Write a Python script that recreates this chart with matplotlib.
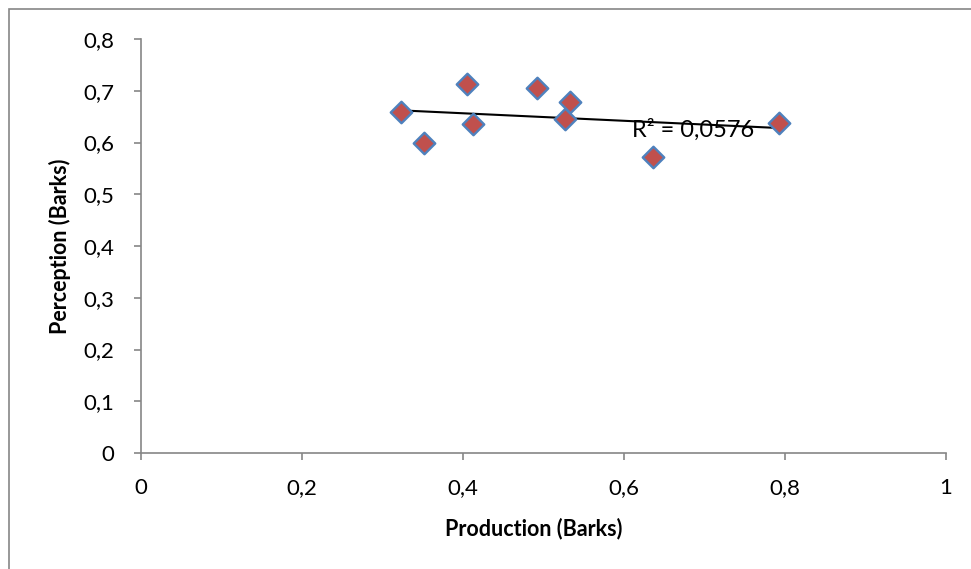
import numpy as np
import matplotlib.pyplot as plt
from matplotlib.patches import Rectangle

# valores
production = [0.323, 0.351, 0.405, 0.412, 0.492, 0.527, 0.533, 0.636, 0.793]
perception = [0.658, 0.600, 0.714, 0.635, 0.706, 0.645, 0.678, 0.572, 0.637]
r2_label = 'R² = 0,0576'
xticks = [0, 0.2, 0.4, 0.6, 0.8, 1]
yticks = [0, 0.1, 0.2, 0.3, 0.4, 0.5, 0.6, 0.7, 0.8]

plt.rcParams['font.family'] = ['Lato', 'DejaVu Sans']

fig = plt.figure(figsize=(9.71, 5.69), dpi=100)
ax = fig.add_axes([141/971, 1 - 453/569, 805/971, 414/569])

# marco exterior (solo se ven borde izquierdo y superior)
fig.patches.append(Rectangle((9/971, -0.05), 1.2, 1 - 9/569 + 0.05, transform=fig.transFigure,
                             fill=False, edgecolor='#868686', linewidth=1.2))

x = np.array(production)
y = np.array(perception)
m, b = np.polyfit(x, y, 1)
xl = np.array([x.min(), x.max()])
ax.plot(xl, m * xl + b, color='black', linewidth=1.5, zorder=2)

ax.scatter(x, y, marker='D', s=120, facecolor='#C0504D', edgecolor='#4F81BD',
           linewidth=1.7, zorder=3)

ax.text(0.61, 0.6255, r2_label, fontsize=17, ha='left', va='center', zorder=4)

ax.set_xlim(0, 1)
ax.set_ylim(0, 0.8)
ax.set_xticks(xticks)
ax.set_yticks(yticks)
fmt = lambda v: ('%g' % v).replace('.', ',')
ax.set_xticklabels([fmt(v) for v in xticks])
ax.set_yticklabels([fmt(v) for v in yticks])

for s in ['top', 'right']:
    ax.spines[s].set_visible(False)
for s in ['left', 'bottom']:
    ax.spines[s].set_color('#868686')
    ax.spines[s].set_linewidth(1.2)
ax.tick_params(axis='both', colors='#868686', labelcolor='black', labelsize=16,
               length=5, width=1.2, direction='out')
ax.tick_params(axis='x', pad=13)
ax.tick_params(axis='y', pad=14)

ax.set_xlabel('Production (Barks)', fontsize=15.5, fontweight='bold', labelpad=12)
ax.xaxis.set_label_coords(0.488, -0.155)
ax.set_ylabel('Perception (Barks)', fontsize=15.5, fontweight='bold', labelpad=9)

fig.savefig('out.png', dpi=100)
